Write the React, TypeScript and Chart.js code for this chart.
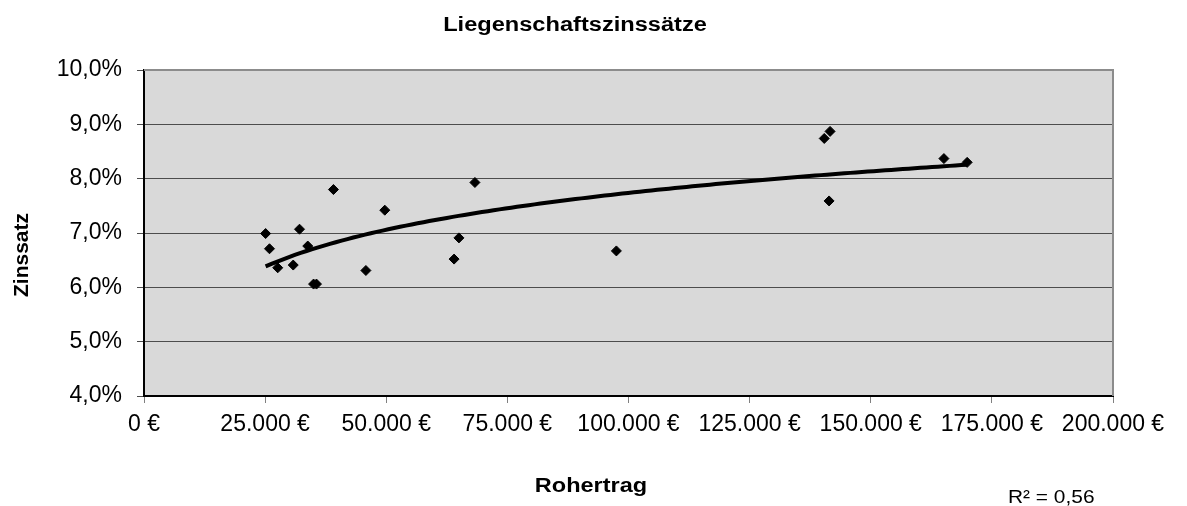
import React, { useEffect, useRef } from 'react';
import { Chart, registerables } from 'chart.js';

Chart.register(...registerables);

// Rohertrag (€) and Liegenschaftszinssatz (%) of each object
const rohertrag = [
  25100, 25900, 27600, 30800, 32100, 33800, 35000, 35600, 39100, 45800,
  49700, 64000, 65000, 68300, 97500, 140400, 141600, 141400, 165100, 169900,
];
const zinssatz = [
  6.99, 6.71, 6.36, 6.41, 7.07, 6.76, 6.06, 6.06, 7.8, 6.31,
  7.42, 6.52, 6.91, 7.93, 6.67, 8.74, 8.87, 7.59, 8.37, 8.3,
];

const xTickValues = [0, 25000, 50000, 75000, 100000, 125000, 150000, 175000, 200000];
const yTickValues = [4, 5, 6, 7, 8, 9, 10];

const chartTitle = 'Liegenschaftszinssätze';
const xTitle = 'Rohertrag';
const yTitle = 'Zinssatz';
const r2Label = 'R² = 0,56';

const FONT = "'Liberation Sans', Arial, sans-serif";

// logarithmic trend line (least squares on ln x), as Excel does
function logFit(xs: number[], ys: number[]) {
  const n = xs.length;
  const lx = xs.map((v) => Math.log(v));
  const mx = lx.reduce((a, b) => a + b, 0) / n;
  const my = ys.reduce((a, b) => a + b, 0) / n;
  let sxy = 0, sxx = 0;
  for (let i = 0; i < n; i++) {
    sxy += (lx[i] - mx) * (ys[i] - my);
    sxx += (lx[i] - mx) ** 2;
  }
  const a = sxy / sxx;
  const b = my - a * mx;
  return { a, b };
}

function fmtEuro(v: number) {
  return String(Math.round(v)).replace(/\B(?=(\d{3})+(?!\d))/g, '.') + ' €';
}
function fmtPct(v: number) {
  return v.toFixed(1).replace('.', ',') + '%';
}

function stretchedText(ctx: CanvasRenderingContext2D, text: string, x: number, y: number, sx: number, align: CanvasTextAlign) {
  ctx.save();
  ctx.translate(x, y);
  ctx.scale(sx, 1);
  ctx.textAlign = align;
  ctx.fillText(text, 0, 0);
  ctx.restore();
}

export default function App() {
  const ref = useRef<HTMLCanvasElement | null>(null);

  useEffect(() => {
    if (!ref.current) return;
    const fit = logFit(rohertrag, zinssatz);
    const xmin = Math.min(...rohertrag);
    const xmax = Math.max(...rohertrag);
    const trend: { x: number; y: number }[] = [];
    const N = 120;
    for (let i = 0; i <= N; i++) {
      const x = xmin + ((xmax - xmin) * i) / N;
      trend.push({ x, y: fit.a * Math.log(x) + fit.b });
    }

    const decoPlugin = {
      id: 'deco',
      beforeDraw(chart: any) {
        const { ctx, chartArea } = chart;
        const { left, top, right, bottom } = chartArea;
        ctx.save();
        ctx.fillStyle = '#ffffff';
        ctx.fillRect(0, 0, chart.width, chart.height);
        ctx.fillStyle = '#d9d9d9';
        ctx.fillRect(left, top, right - left, bottom - top);
        ctx.restore();
      },
      afterDraw(chart: any) {
        const { ctx, chartArea } = chart;
        const { left, top, right, bottom } = chartArea;
        ctx.save();
        ctx.strokeStyle = '#8c8c8c';
        ctx.lineWidth = 2;
        ctx.beginPath();
        ctx.moveTo(left, top);
        ctx.lineTo(right, top);
        ctx.lineTo(right, bottom);
        ctx.stroke();

        ctx.fillStyle = '#000';
        ctx.textBaseline = 'alphabetic';
        ctx.font = `bold 20px ${FONT}`;
        stretchedText(ctx, chartTitle, 575, 31, 1.18, 'center');

        ctx.font = `bold 21px ${FONT}`;
        stretchedText(ctx, xTitle, 591, 492, 1.12, 'center');

        ctx.font = `19px ${FONT}`;
        stretchedText(ctx, r2Label, 1008, 503, 1.1, 'left');

        ctx.translate(28, 255);
        ctx.rotate(-Math.PI / 2);
        ctx.textAlign = 'center';
        ctx.font = `bold 21px ${FONT}`;
        ctx.fillText(yTitle, 0, 0);
        ctx.restore();
      },
    };

    const chart = new Chart(ref.current, {
      type: 'scatter',
      data: {
        datasets: [
          {
            type: 'scatter',
            data: rohertrag.map((x, i) => ({ x, y: zinssatz[i] })),
            pointStyle: 'rectRot',
            pointRadius: 5,
            pointBorderWidth: 1,
            backgroundColor: '#000',
            borderColor: '#000',
            order: 0,
          },
          {
            type: 'line',
            data: trend,
            borderColor: '#000',
            borderWidth: 4,
            pointRadius: 0,
            fill: false,
            tension: 0,
            order: 1,
          } as any,
        ],
      },
      options: {
        responsive: false,
        maintainAspectRatio: false,
        animation: false,
        layout: { padding: { top: 70, right: 74, bottom: 0, left: 0 } },
        plugins: {
          legend: { display: false },
          tooltip: { enabled: false },
          title: { display: false },
        },
        scales: {
          x: {
            type: 'linear',
            min: 0,
            max: 200000,
            afterFit: (s: any) => {
              s.height = 110;
            },
            afterBuildTicks: (s: any) => {
              s.ticks = xTickValues.map((v) => ({ value: v }));
            },
            ticks: {
              color: '#000',
              font: { family: FONT, size: 23 },
              padding: 8,
              maxRotation: 0,
              autoSkip: false,
              callback: (v: any) => fmtEuro(Number(v)),
            },
            grid: {
              drawOnChartArea: false,
              drawTicks: true,
              tickLength: 7,
              tickColor: '#808080',
              tickWidth: 1,
            },
            border: { display: true, color: '#000', width: 2 },
          },
          y: {
            type: 'linear',
            min: 4,
            max: 10,
            afterFit: (s: any) => {
              s.width = 144;
            },
            afterBuildTicks: (s: any) => {
              s.ticks = yTickValues.map((v) => ({ value: v }));
            },
            ticks: {
              color: '#000',
              font: { family: FONT, size: 23 },
              padding: 15,
              autoSkip: false,
              callback: (v: any) => fmtPct(Number(v)),
            },
            grid: {
              color: '#4d4d4d',
              lineWidth: 1,
              drawTicks: true,
              tickLength: 7,
              tickColor: '#4d4d4d',
            },
            border: { display: true, color: '#000', width: 2 },
          },
        },
      },
      plugins: [decoPlugin],
    });

    return () => chart.destroy();
  }, []);

  return (
    <div style={{ position: 'absolute', left: 0, top: 0, width: 1187, height: 506 }}>
      <canvas ref={ref} width={1187} height={506} style={{ display: 'block' }} />
    </div>
  );
}
